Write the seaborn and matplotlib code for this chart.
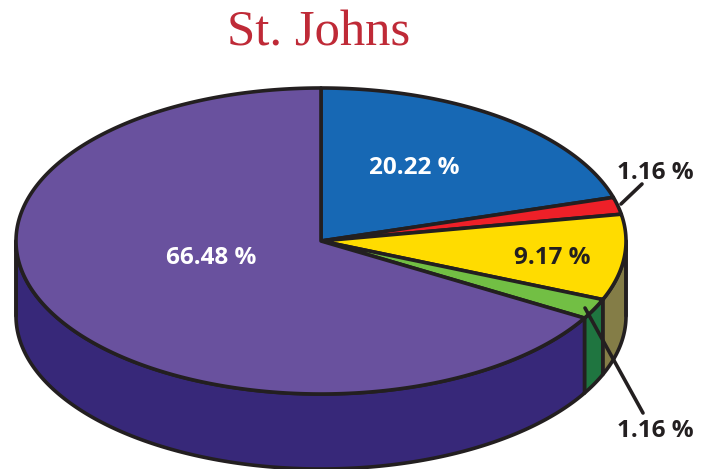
import numpy as np
import matplotlib
matplotlib.use("Agg")
import matplotlib.pyplot as plt
from matplotlib.patches import Polygon
import seaborn as sns

# Slices clockwise from 12 o'clock. Drawn shares are read from the picture; the
# printed labels are kept apart because the source's slices differ from its labels.
slice_names = ["Blue", "Red", "Yellow", "Green", "Purple"]
slice_shares = [20.4, 1.8, 9.05, 2.15, 66.6]
slice_labels = ["20.22 %", "1.16 %", "9.17 %", "1.16 %", "66.48 %"]
top_colors = ["#1768b4", "#ee2028", "#ffdc00", "#72bf44", "#69519e"]
side_colors = ["#0f4a80", "#a0181c", "#847d47", "#1f7540", "#372879"]
title_text = "St. Johns"

sns.set_theme(style="white")
plt.rcParams["font.family"] = ["Open Sans", "DejaVu Sans"]

CX, CY, RX, RY, DEPTH = 321, 241, 305, 153, 75
EDGE = "#231f20"
LW = 2.6

fig, ax = plt.subplots(figsize=(7.06, 4.69), dpi=100)
ax.set_position([0, 0, 1, 1])
ax.set_xlim(0, 706)
ax.set_ylim(469, 0)
ax.axis("off")


def rim(a0, a1, dy=0.0):
    t = np.radians(np.linspace(a0, a1, max(int(abs(a1 - a0) * 2), 2)))
    return np.column_stack([CX + RX * np.sin(t), CY - RY * np.cos(t) + dy])


shares = np.array(slice_shares)
edges = np.concatenate([[0], np.cumsum(shares) / shares.sum() * 360])

# outer wall: only the front half of the rim (90..270 deg) shows
for i in range(len(shares)):
    a0, a1 = max(edges[i], 90), min(edges[i + 1], 270)
    if a1 > a0:
        wall = np.vstack([rim(a0, a1), rim(a0, a1, DEPTH)[::-1]])
        ax.add_patch(Polygon(wall, closed=True, fc=side_colors[i], ec=EDGE,
                             lw=LW, joinstyle="round", zorder=2))
# straight sides where the disc turns away
for a in (90, 270):
    p = rim(a, a + 1)[0]
    ax.plot([p[0], p[0]], [p[1], p[1] + DEPTH], color=EDGE, lw=LW, zorder=3,
            solid_capstyle="round")

# top face
for i in range(len(shares)):
    top = np.vstack([[CX, CY], rim(edges[i], edges[i + 1])])
    ax.add_patch(Polygon(top, closed=True, fc=top_colors[i], ec=EDGE,
                         lw=LW, joinstyle="round", zorder=4))

# labels
label_pos = [(414, 168), (655, 173), (552, 258), (655, 431), (211, 258)]
label_col = ["white", EDGE, EDGE, EDGE, "white"]
for s, (x, y), c in zip(slice_labels, label_pos, label_col):
    ax.text(x, y, s, ha="center", va="center", fontsize=17.5, fontweight="bold",
            color=c, zorder=6)

# leader lines
ax.plot([621, 642], [204, 184], color=EDGE, lw=LW, zorder=5)
ax.plot([585, 643], [308, 413], color=EDGE, lw=LW, zorder=5)

ax.text(319, 33, title_text, ha="center", va="center", fontsize=36.5,
        family="Liberation Serif", color="#bf2a37", zorder=6)

fig.savefig("out.png", dpi=100)
